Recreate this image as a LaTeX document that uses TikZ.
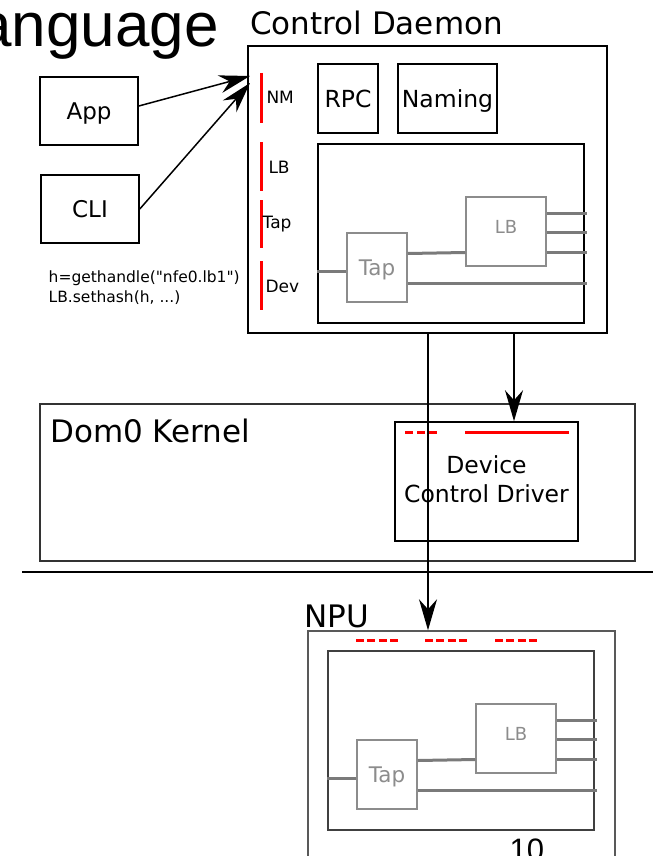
\documentclass[tikz,border=0pt]{standalone}
\usepackage{fontspec}
\setmainfont{DejaVu Sans}
\newfontfamily\helv{Liberation Sans}
\newfontfamily\codefont{DejaVu Sans}[Ligatures=TeXOff]
\usetikzlibrary{arrows.meta}

\tikzset{
  box/.style={draw, line width=1.6pt, inner sep=0pt, text depth=0pt,
    font=\fontsize{23.5}{29.5}\selectfont},
  frame/.style={line width=1.3pt, inner sep=0pt},
  title/.style={anchor=base west, inner sep=0pt, font=\fontsize{31}{36}\selectfont},
  greybox/.style={draw=black!45, line width=1.5pt, text=black!45, inner sep=0pt, text depth=0pt},
  wire/.style={draw=black!52, line width=3pt},
  port/.style={red, line width=3pt},
  portlabel/.style={anchor=base west, inner sep=0pt, font=\fontsize{17}{20}\selectfont},
  code/.style={anchor=base west, inner sep=0pt, font=\codefont\fontsize{15.5}{20}\selectfont},
  arr/.style={-{Stealth[length=31pt,width=18pt,inset=10pt]}, line width=1.5pt},
}

\begin{document}
\begin{tikzpicture}[x=1pt,y=-1pt]
  \useasboundingbox (0,0) rectangle (653,856);

  \node[anchor=base east, inner sep=0pt, font=\helv\fontsize{62}{70}\selectfont] (lang) at (219,47) {Language};

  % control daemon
  \node[title] (cdtitle) at (250,35) {Control Daemon};
  \node[frame, draw, line width=1.8pt, minimum width=359pt, minimum height=287pt] (daemon) at (427.5,189.5) {};
  \node[box, minimum width=60pt, minimum height=69pt] (rpc) at (348,98.5) {RPC};
  \node[box, line width=2.5pt, minimum width=99pt, minimum height=69pt] (naming) at (447.5,98.5) {Naming};
  \foreach \lbl/\ya/\yb/\tx/\base in {NM/73/123/266.3/103, LB/142/191/268.3/173, Tap/200/248/262.5/228, Dev/261/310/265.3/292.5} {
    \draw[port] (261,\ya) -- (261,\yb);
    \node[portlabel] (port\lbl) at (\tx,\base) {\lbl};
  }

  % clients
  \node[box, font=\fontsize{23}{28}\selectfont, minimum width=98pt, minimum height=68pt] (app) at (89,111) {App};
  \node[box, font=\fontsize{23}{28}\selectfont, minimum width=98pt, minimum height=68pt] (cli) at (90,209) {CLI};
  \node[code] (code1) at (48.5,282) {h=gethandle("nfe0.lb1")};
  \node[code] (code2) at (48.5,302) {LB.sethash(h, ...)};
  \coordinate (nmA) at (250,76);
  \coordinate (nmB) at (250,83);
  \draw[arr] ([yshift=5pt]app.east) -- (nmA);
  \draw[arr] (cli.east) -- (nmB);

  % kernel side
  \node[frame, draw=black!80, minimum width=595pt, minimum height=157pt] (dom0) at (337.5,482.5) {};
  \node[title] (dom0title) at (50,442) {Dom0 Kernel};
  \node[box, align=center, text depth=5pt, minimum width=183pt, minimum height=119pt] (dcd) at (486.5,481.5) {Device\\Control Driver};
  \draw[port, dash pattern=on 8pt off 4pt] (405,432) -- (437,432);
  \draw[port] (465,432) -- (569,432);

  \draw[line width=1.8pt] (22,572) -- (653,572);

  % npu
  \node[title] (nputitle) at (304,627) {NPU};
  \node[frame, draw=black!65, line width=1.5pt, minimum width=307pt, minimum height=240pt] (npu) at (461.5,751) {};
  \foreach \a in {356,425,495}
    \draw[port, dash pattern=on 8pt off 3.4pt] (\a,640) -- ++(42,0);

  % same tap/lb chain in both places
  \foreach \p/\dx/\dy/\edge in {A/0/0/black, B/10/507/black!75} {
    \begin{scope}[shift={(\dx,\dy)}]
      \node[draw=\edge, line width=1.5pt, minimum width=266pt, minimum height=179pt] (in\p) at (451,233.5) {};
      \node[greybox, minimum width=60pt, minimum height=69pt, font=\fontsize{21.5}{24}\selectfont] (tap\p) at (377,267.5) {Tap};
      \node[greybox, minimum width=80pt, minimum height=69pt, text depth=10pt, font=\fontsize{18}{20}\selectfont] (lb\p) at (506,231.5) {LB};
    \end{scope}
    \draw[wire] ([yshift=-4pt]tap\p.west) coordinate (w\p) -- (w\p -| in\p.west);
    \draw[wire] ([yshift=14pt]tap\p.east) -- ([yshift=-21pt]lb\p.west);
    \draw[wire] ([yshift=-16pt]tap\p.east) coordinate (o\p) -- ([xshift=2pt]o\p -| in\p.east);
    \foreach \s in {18,-1,-21}
      \draw[wire] ([yshift=\s pt]lb\p.east) coordinate (l\p) -- ([xshift=2pt]l\p -| in\p.east);
  }

  \coordinate (npuin) at ([xshift=0.5pt]daemon.south);
  \draw[arr] (npuin) -- (npuin |- npu.north);
  \coordinate (drvin) at ([xshift=27.5pt]dcd.north);
  \draw[arr] (drvin |- daemon.south) -- (drvin);

  \node[anchor=base west, inner sep=0pt, font=\helv\fontsize{31}{36}\selectfont] (pagenum) at (509.5,860) {10};
\end{tikzpicture}
\end{document}
